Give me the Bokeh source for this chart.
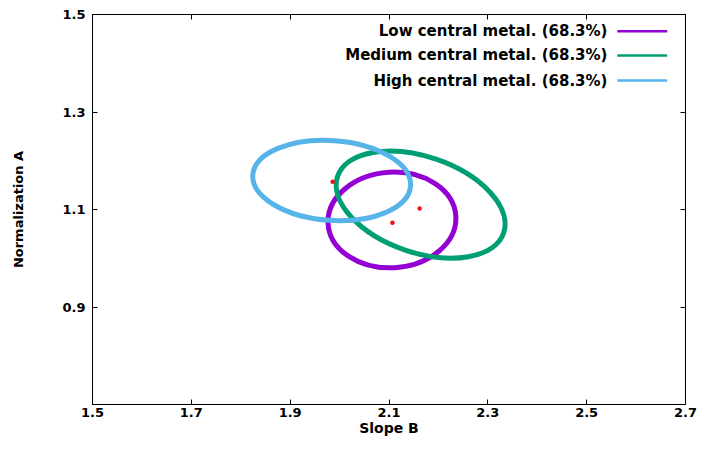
from bokeh.plotting import figure
from bokeh.models import LinearAxis, FixedTicker, Range1d, Label
from bokeh.embed import file_html
from bokeh.resources import INLINE

# ---- data ----
series = ["Low central metal. (68.3%)",
          "Medium central metal. (68.3%)",
          "High central metal. (68.3%)"]
colors = ["#9400d3", "#009e73", "#56b4e9"]
# 68.3% confidence contours (ellipse centre, full widths, tilt)
center_b = [2.106, 2.164, 1.984]
center_a = [1.0785, 1.110, 1.1595]
width_b = [0.259, 0.355, 0.320]
height_a = [0.196, 0.197, 0.164]
tilt = [0.06, -0.328, -0.07]
# best-fit points
best_b = [2.107, 2.162, 1.986]
best_a = [1.073, 1.102, 1.157]

x_ticks = [1.5, 1.7, 1.9, 2.1, 2.3, 2.5, 2.7]
y_ticks = [0.9, 1.1, 1.3, 1.5]

FONT = "DejaVu Sans"

p = figure(width=703, height=439, output_backend="svg", toolbar_location=None,
           x_range=Range1d(1.5, 2.7), y_range=Range1d(0.7, 1.5),
           min_border_left=92, min_border_right=18, min_border_top=14, min_border_bottom=35)
p.grid.visible = False
p.outline_line_color = "black"
p.outline_line_width = 1
p.background_fill_color = "white"
p.border_fill_color = "white"


def style_axis(ax, ticks, show_labels=True):
    ax.ticker = FixedTicker(ticks=ticks)
    ax.major_tick_in = 5
    ax.major_tick_out = 0
    ax.minor_tick_line_color = None
    ax.axis_line_color = "black"
    ax.major_tick_line_color = "black"
    if show_labels:
        ax.major_label_text_font = FONT
        ax.major_label_text_font_style = "bold"
        ax.major_label_text_font_size = "13px"
        ax.major_label_text_color = "black"
    else:
        ax.major_label_text_font_size = "0px"
        ax.major_label_standoff = 0


xa = p.xaxis[0]
style_axis(xa, x_ticks)
xa.major_label_standoff = 3
xa.axis_label = "Slope B"
xa.axis_label_text_font = FONT
xa.axis_label_text_font_style = "bold"
xa.axis_label_text_font_size = "14px"
xa.axis_label_text_color = "black"
xa.axis_label_standoff = 0

ya = p.yaxis[0]
style_axis(ya, y_ticks)
ya.major_label_standoff = 7
ya.axis_label = "Normalization A"
ya.axis_label_text_font = FONT
ya.axis_label_text_font_style = "bold"
ya.axis_label_text_font_size = "13px"
ya.axis_label_text_color = "black"
ya.axis_label_standoff = 33

top = LinearAxis()
style_axis(top, x_ticks, show_labels=False)
p.add_layout(top, "above")
right = LinearAxis()
style_axis(right, y_ticks, show_labels=False)
p.add_layout(right, "right")

# contours
for i in range(len(series)):
    p.ellipse(x=[center_b[i]], y=[center_a[i]], width=[width_b[i]], height=[height_a[i]],
              angle=[tilt[i]], fill_color=None, line_color=colors[i], line_width=5)

# best-fit points
p.scatter(x=best_b, y=best_a, size=4.5, color="#ee1111", line_color=None)

# legend (text to the left of the key line, gnuplot style)
key_x0, key_x1, text_x = 2.562, 2.663, 2.542
rows = [1.4657, 1.4159, 1.3646]
for i in range(len(series)):
    p.segment(x0=[key_x0], y0=[rows[i]], x1=[key_x1], y1=[rows[i]],
              line_color=colors[i], line_width=2.5)
    p.add_layout(Label(x=text_x, y=rows[i], text=series[i], text_align="right",
                       text_baseline="middle", text_font=FONT, text_font_style="bold",
                       text_font_size="15px", text_color="black"))

open("out.html", "w").write(file_html(p, INLINE))
